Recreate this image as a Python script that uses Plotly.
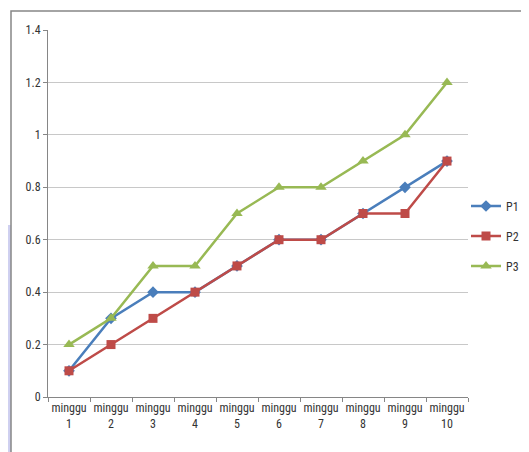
import plotly.graph_objects as go

categories = [f"minggu<br>{i}" for i in range(1, 11)]
p1 = [0.1, 0.3, 0.4, 0.4, 0.5, 0.6, 0.6, 0.7, 0.8, 0.9]
p2 = [0.1, 0.2, 0.3, 0.4, 0.5, 0.6, 0.6, 0.7, 0.7, 0.9]
p3 = [0.2, 0.3, 0.5, 0.5, 0.7, 0.8, 0.8, 0.9, 1.0, 1.2]
y_ticks = [0, 0.2, 0.4, 0.6, 0.8, 1, 1.2, 1.4]
y_labels = ["0", "0.2", "0.4", "0.6", "0.8", "1", "1.2", "1.4"]

OFF = 8  # page body margin
W, H = 529 - OFF, 452 - OFF
L, T = 48 - OFF, 30 - OFF
pw, ph = 420, 367
R = W - L - pw
B = H - T - ph

def px_to_paper_x(px):
    return (px - OFF - L) / pw

def px_to_paper_y(py):
    return (H - B - (py - OFF)) / ph

fig = go.Figure()
fig.add_trace(go.Scatter(x=categories, y=p1, name="P1", mode="lines+markers", legendgroup="a",
                         line=dict(color="#4a7ebb", width=2.5),
                         marker=dict(symbol="diamond", size=9, color="#4a7ebb")))
fig.add_trace(go.Scatter(x=categories, y=p2, name="P2", mode="lines+markers", legendgroup="b",
                         line=dict(color="#be4b48", width=2.5),
                         marker=dict(symbol="square", size=9, color="#be4b48")))
fig.add_trace(go.Scatter(x=categories, y=p3, name="P3", mode="lines+markers", legendgroup="c",
                         line=dict(color="#98b954", width=2.5),
                         marker=dict(symbol="triangle-up", size=10, color="#98b954")))

font = dict(family="Roboto Condensed, Liberation Sans Narrow, Arial Narrow, Liberation Sans, sans-serif",
            size=12, color="#333333")

fig.update_layout(
    width=W, height=H,
    margin=dict(l=L, r=R, t=T, b=B, pad=0, autoexpand=False),
    paper_bgcolor="white", plot_bgcolor="white",
    font=font,
    showlegend=True,
    legend=dict(x=px_to_paper_x(466), xanchor="left", y=px_to_paper_y(236), yanchor="middle",
                font=dict(size=12, color="#333333"), tracegroupgap=11, itemwidth=30,
                bgcolor="rgba(0,0,0,0)"),
    xaxis=dict(type="category", tickson="boundaries", ticks="outside", ticklen=4,
               tickcolor="#868686", showline=True, linecolor="#868686", linewidth=1,
               showgrid=False, tickfont=font, range=[-0.5, 9.5], fixedrange=True,
               tickangle=0, automargin=False),
    yaxis=dict(range=[0, 1.4], tickvals=y_ticks, ticktext=y_labels, ticks="outside",
               ticklen=4, tickcolor="#868686", showline=True, linecolor="#868686",
               linewidth=1, showgrid=True, gridcolor="#c8c8c8", gridwidth=1,
               zeroline=False, tickfont=font, fixedrange=True, automargin=False),
    shapes=[
        dict(type="rect", xref="paper", yref="paper",
             x0=px_to_paper_x(-5), x1=px_to_paper_x(11),
             y0=px_to_paper_y(470), y1=px_to_paper_y(225),
             fillcolor="#cfd0f0", line=dict(width=0), layer="below"),
        dict(type="rect", xref="paper", yref="paper",
             x0=px_to_paper_x(11), x1=px_to_paper_x(545),
             y0=px_to_paper_y(470), y1=px_to_paper_y(11),
             line=dict(color="#868686", width=1.5), fillcolor="rgba(0,0,0,0)", layer="below"),
    ],
)

fig.write_html("out.html")
